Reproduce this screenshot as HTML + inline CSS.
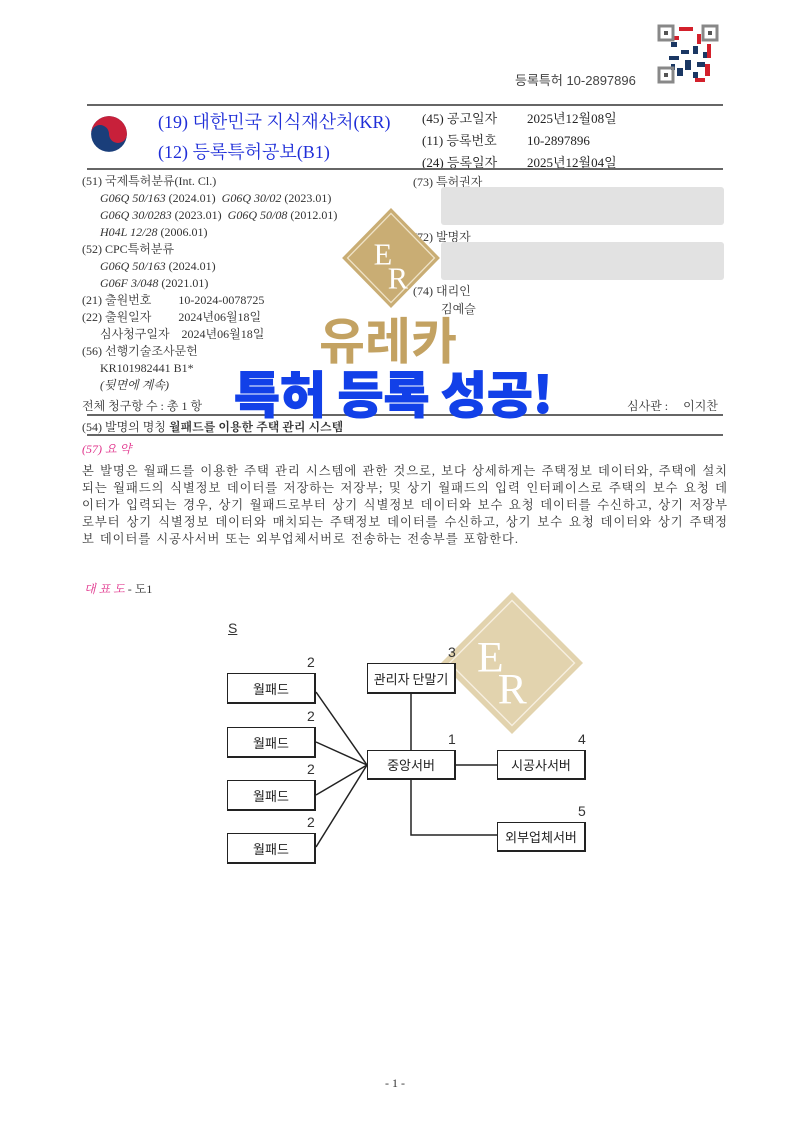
<!DOCTYPE html>
<html><head><meta charset="utf-8"><style>
*{margin:0;padding:0;box-sizing:border-box}
body{width:800px;height:1132px;background:#fff;position:relative;overflow:hidden;font-family:"Liberation Serif","Noto Serif CJK SC","Noto Sans CJK KR",serif;color:#333}
.a{position:absolute;white-space:nowrap}
.s{font-size:12px}
.hr{position:absolute;left:87px;width:636px;background:#666}
.i{font-style:italic}
.bx{position:absolute;border:1.5px solid #222;border-right-width:2.5px;border-bottom-width:2.5px;background:#fff;font-family:"Noto Sans CJK KR",sans-serif;font-size:13px;color:#222;display:flex;align-items:center;justify-content:center}
.gray{position:absolute;background:#e2e2e2;border-radius:3px}
</style></head><body>
<!-- QR -->
<svg class="a" style="left:657px;top:24px" width="62" height="60" viewBox="0 0 62 60">
<rect width="62" height="60" fill="#fff"/>
<g fill="#1a3763">
<rect x="14" y="18" width="6" height="5"/><rect x="24" y="26" width="8" height="4"/><rect x="36" y="22" width="5" height="8"/><rect x="12" y="32" width="10" height="4"/><rect x="28" y="36" width="6" height="10"/><rect x="40" y="38" width="8" height="5"/><rect x="20" y="44" width="6" height="8"/><rect x="36" y="48" width="5" height="6"/><rect x="46" y="28" width="5" height="6"/><rect x="14" y="40" width="4" height="6"/>
</g>
<g fill="#d3202b"><rect x="22" y="3" width="14" height="4"/><rect x="40" y="10" width="4" height="10"/><rect x="50" y="20" width="4" height="14"/><rect x="48" y="40" width="5" height="12"/><rect x="38" y="54" width="10" height="4"/><rect x="16" y="12" width="6" height="4"/></g>
<g fill="none" stroke="#888" stroke-width="3"><rect x="2" y="2" width="14" height="14"/><rect x="46" y="2" width="14" height="14"/><rect x="2" y="44" width="14" height="14"/></g>
<g fill="#555"><rect x="7" y="7" width="4" height="4"/><rect x="51" y="7" width="4" height="4"/><rect x="7" y="49" width="4" height="4"/></g>
</svg>
<div class="a" style="left:515px;top:70px;font-size:13px;font-family:'Liberation Sans','Noto Sans CJK KR',sans-serif;color:#444">등록특허 10-2897896</div>
<div class="hr" style="top:104px;height:2px"></div>
<!-- emblem -->
<svg class="a" style="left:90px;top:114px" width="38" height="40" viewBox="0 0 36 38">
<circle cx="18" cy="19" r="17" fill="#1a3e7a"/>
<path d="M1 19 A17 17 0 0 1 35 19 A8.5 8.5 0 0 1 18 19 A8.5 8.5 0 0 0 1 19Z" fill="#c8203a"/>
</svg>
<div class="a" style="left:158px;top:108px;font-size:18px;color:#1f2ed8;font-family:'Liberation Serif','Noto Serif CJK SC',serif">(19) 대한민국 지식재산처(KR)</div>
<div class="a" style="left:158px;top:138px;font-size:18px;color:#1f2ed8;font-family:'Liberation Serif','Noto Serif CJK SC',serif">(12) 등록특허공보(B1)</div>
<div class="a" style="left:422px;top:108px;font-size:13px;line-height:22px;color:#222">(45) 공고일자<br>(11) 등록번호<br>(24) 등록일자</div>
<div class="a" style="left:527px;top:108px;font-size:13px;line-height:22px;color:#222">2025년12월08일<br>10-2897896<br>2025년12월04일</div>
<div class="hr" style="top:168px;height:2px"></div>
<div class="a s" style="left:82px;top:173px;line-height:17px">(51) 국제특허분류(Int. Cl.)<br>
&nbsp;&nbsp;&nbsp;&nbsp;&nbsp;&nbsp;<span class="i">G06Q 50/163</span> (2024.01)&nbsp; <span class="i">G06Q 30/02</span> (2023.01)<br>
&nbsp;&nbsp;&nbsp;&nbsp;&nbsp;&nbsp;<span class="i">G06Q 30/0283</span> (2023.01)&nbsp; <span class="i">G06Q 50/08</span> (2012.01)<br>
&nbsp;&nbsp;&nbsp;&nbsp;&nbsp;&nbsp;<span class="i">H04L 12/28</span> (2006.01)<br>
(52) CPC특허분류<br>
&nbsp;&nbsp;&nbsp;&nbsp;&nbsp;&nbsp;<span class="i">G06Q 50/163</span> (2024.01)<br>
&nbsp;&nbsp;&nbsp;&nbsp;&nbsp;&nbsp;<span class="i">G06F 3/048</span> (2021.01)<br>
(21) 출원번호&nbsp;&nbsp;&nbsp;&nbsp;&nbsp;&nbsp;&nbsp;&nbsp; 10-2024-0078725<br>
(22) 출원일자&nbsp;&nbsp;&nbsp;&nbsp;&nbsp;&nbsp;&nbsp;&nbsp; 2024년06월18일<br>
&nbsp;&nbsp;&nbsp;&nbsp;&nbsp;&nbsp;심사청구일자&nbsp;&nbsp;&nbsp; 2024년06월18일<br>
(56) 선행기술조사문헌<br>
&nbsp;&nbsp;&nbsp;&nbsp;&nbsp;&nbsp;KR101982441 B1*<br>
&nbsp;&nbsp;&nbsp;&nbsp;&nbsp;&nbsp;<span class="i">(뒷면에 계속)</span></div>
<div class="a s" style="left:82px;top:397px">전체 청구항 수 : 총 1 항</div>
<div class="a s" style="left:627px;top:397px">심사관 :&nbsp;&nbsp;&nbsp;&nbsp; 이지찬</div>
<div class="a s" style="left:413px;top:173px">(73) 특허권자</div>
<div class="gray" style="left:441px;top:187px;width:283px;height:38px"></div>
<div class="a s" style="left:413px;top:228px">(72) 발명자</div>
<div class="gray" style="left:441px;top:242px;width:283px;height:38px"></div>
<div class="a s" style="left:413px;top:282px">(74) 대리인</div>
<div class="a s" style="left:441px;top:300px">김예슬</div>
<div class="hr" style="top:414px;height:1.5px"></div>
<div class="a s" style="left:82px;top:418px">(54) 발명의 명칭 <b>월패드를 이용한 주택 관리 시스템</b></div>
<div class="hr" style="top:434px;height:1.5px"></div>
<div class="a s i" style="left:82px;top:440px;color:#e0308a">(57) 요 약</div>
<div class="a" style="left:82px;top:463px;font-size:12.3px;line-height:17px;letter-spacing:0.95px;word-spacing:1px;white-space:normal;width:646px;text-align:justify">본 발명은 월패드를 이용한 주택 관리 시스템에 관한 것으로, 보다 상세하게는 주택정보 데이터와, 주택에 설치되는 월패드의 식별정보 데이터를 저장하는 저장부; 및 상기 월패드의 입력 인터페이스로 주택의 보수 요청 데이터가 입력되는 경우, 상기 월패드로부터 상기 식별정보 데이터와 보수 요청 데이터를 수신하고, 상기 저장부로부터 상기 식별정보 데이터와 매치되는 주택정보 데이터를 수신하고, 상기 보수 요청 데이터와 상기 주택정보 데이터를 시공사서버 또는 외부업체서버로 전송하는 전송부를 포함한다.</div>
<div class="a s" style="left:84px;top:580px"><span class="i" style="color:#e0308a">대 표 도</span> - 도1</div>

<!-- watermark 1 -->
<svg class="a" style="left:342px;top:208px" width="98" height="100" viewBox="0 0 90 92">
<polygon points="45,0 90,46 45,92 0,46" fill="#c9ad74"/>
<polygon points="45,5 85,46 45,87 5,46" fill="none" stroke="#efe3c8" stroke-width="1.2"/>
<text x="29" y="52" font-family="Liberation Serif" font-size="28" fill="#fff">E</text>
<text x="42" y="74" font-family="Liberation Serif" font-size="28" fill="#fff">R</text>
</svg>
<div class="a" style="left:319px;top:308px;font-size:50px;font-weight:bold;color:#c3a262;font-family:'Noto Sans CJK KR',sans-serif;line-height:60px">유레카</div>
<div class="a" style="left:234px;top:362px;font-size:50px;font-weight:900;color:#1240e8;font-family:'Noto Sans CJK KR',sans-serif;line-height:60px;-webkit-text-stroke:1px #1240e8">특허 등록 성공!</div>

<!-- diagram -->
<div class="a" style="left:228px;top:620px;font-size:14px;text-decoration:underline;font-family:'Liberation Sans',sans-serif">S</div>
<svg class="a" style="left:0;top:0" width="800" height="1132">
<g stroke="#222" stroke-width="1.5" fill="none">
<line x1="316" y1="692" x2="367" y2="765"/><line x1="316" y1="742" x2="367" y2="765"/><line x1="316" y1="795" x2="367" y2="765"/><line x1="316" y1="847" x2="367" y2="765"/>
<line x1="411" y1="693" x2="411" y2="750"/><polyline points="411,779 411,835 497,835"/><line x1="455" y1="765" x2="497" y2="765"/>
</g>
</svg>
<!-- watermark 2 -->
<svg class="a" style="left:441px;top:592px" width="142" height="142" viewBox="0 0 150 150">
<polygon points="75,0 150,75 75,150 0,75" fill="#e2d3ae"/>
<polygon points="75,9 141,75 75,141 9,75" fill="none" stroke="#f6efe0" stroke-width="1.5"/>
<text x="38" y="84" font-family="Liberation Serif" font-size="46" fill="#fff">E</text>
<text x="60" y="118" font-family="Liberation Serif" font-size="46" fill="#fff">R</text>
</svg>
<div class="bx" style="left:227px;top:673px;width:89px;height:31px">월패드</div>
<div class="bx" style="left:227px;top:727px;width:89px;height:31px">월패드</div>
<div class="bx" style="left:227px;top:780px;width:89px;height:31px">월패드</div>
<div class="bx" style="left:227px;top:833px;width:89px;height:31px">월패드</div>
<div class="bx" style="left:367px;top:663px;width:89px;height:31px">관리자 단말기</div>
<div class="bx" style="left:367px;top:750px;width:89px;height:30px">중앙서버</div>
<div class="bx" style="left:497px;top:750px;width:89px;height:30px">시공사서버</div>
<div class="bx" style="left:497px;top:822px;width:89px;height:30px">외부업체서버</div>
<div class="a" style="left:307px;top:654px;font-size:14px;font-family:'Liberation Sans',sans-serif">2</div>
<div class="a" style="left:307px;top:708px;font-size:14px;font-family:'Liberation Sans',sans-serif">2</div>
<div class="a" style="left:307px;top:761px;font-size:14px;font-family:'Liberation Sans',sans-serif">2</div>
<div class="a" style="left:307px;top:814px;font-size:14px;font-family:'Liberation Sans',sans-serif">2</div>
<div class="a" style="left:448px;top:644px;font-size:14px;font-family:'Liberation Sans',sans-serif">3</div>
<div class="a" style="left:448px;top:731px;font-size:14px;font-family:'Liberation Sans',sans-serif">1</div>
<div class="a" style="left:578px;top:731px;font-size:14px;font-family:'Liberation Sans',sans-serif">4</div>
<div class="a" style="left:578px;top:803px;font-size:14px;font-family:'Liberation Sans',sans-serif">5</div>
<div class="a s" style="left:385px;top:1076px">- 1 -</div>
</body></html>
